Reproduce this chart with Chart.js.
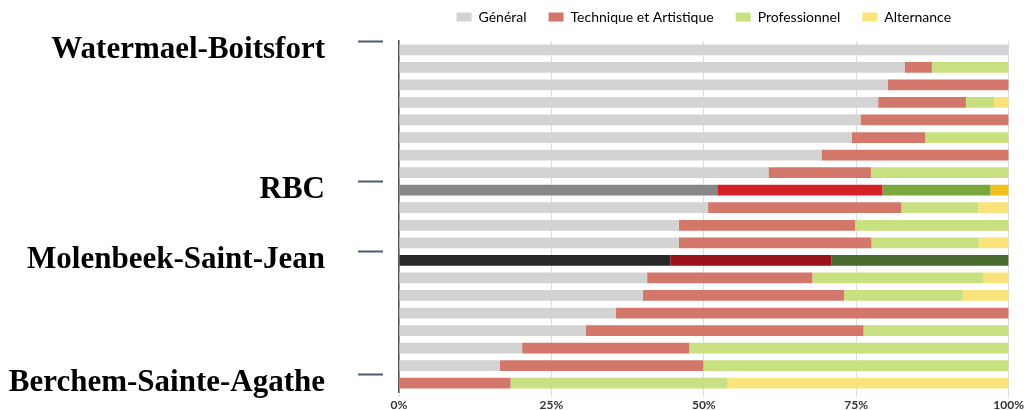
<!DOCTYPE html>
<html>
<head>
<meta charset="utf-8">
<script src="https://cdn.jsdelivr.net/npm/chart.js@4"></script>
<style>
  html, body { margin: 0; padding: 0; background: #fff; }
  #wrap { width: 1026px; height: 410px; }
</style>
</head>
<body>
<div id="wrap"><canvas id="chart" width="1026" height="410"></canvas></div>
<script>
// Communes, top to bottom (only a few are labelled in the original)
const communes = [
  'Watermael-Boitsfort', '', '', '', '', '', '', '',
  'RBC', '', '', '',
  'Molenbeek-Saint-Jean', '', '', '', '', '', '',
  'Berchem-Sainte-Agathe'
];

// Share of pupils per type of education (%)
const general      = [100, 83.0, 80.2, 78.6, 75.7, 74.3, 69.3, 60.6, 52.2, 50.7, 45.9, 45.9, 44.5, 40.7, 40.0, 35.6, 30.6, 20.2, 16.5, 0];
const technique    = [0, 4.4, 19.8, 14.4, 24.3, 12.0, 30.7, 16.8, 27.1, 31.7, 28.9, 31.6, 26.4, 27.1, 33.0, 64.4, 45.6, 27.4, 33.4, 18.3];
const professionel = [0, 12.6, 0, 4.6, 0, 13.7, 0, 22.6, 17.7, 12.6, 25.2, 17.6, 29.1, 28.1, 19.5, 0, 23.8, 52.4, 50.1, 35.6];
const alternance   = [0, 0, 0, 2.4, 0, 0, 0, 0, 3.0, 4.9, 0, 4.9, 0, 4.1, 7.5, 0, 0, 0, 0, 46.1];

const xTicks = [0, 25, 50, 75, 100];

// highlighted rows: RBC (regional average) and Molenbeek
const highlight = {
  8:  ['#878787', '#d42027', '#7ba83d', '#f2c01c'],
  12: ['#282828', '#99111a', '#486c30', '#f2c01c']
};
const baseColors = ['#d3d3d3', '#d3776b', '#c9e080', '#fbe37c'];

function colorsFor(k) {
  return communes.map((_, i) => highlight[i] ? highlight[i][k] : baseColors[k]);
}

const names = ['Général', 'Technique et Artistique', 'Professionnel', 'Alternance'];
const series = [general, technique, professionel, alternance];

// legend sits higher than the layout puts it
const legendNudge = {
  id: 'legendNudge',
  beforeDraw(chart) {
    const lg = chart.legend;
    const h = lg.bottom - lg.top;
    lg.top = -12;
    lg.bottom = lg.top + h;
  }
};

new Chart(document.getElementById('chart'), {
  type: 'bar',
  data: {
    labels: communes,
    datasets: series.map((d, k) => ({
      label: names[k],
      data: d,
      backgroundColor: colorsFor(k),
      borderWidth: 0,
      barPercentage: 0.61,
      categoryPercentage: 1
    }))
  },
  plugins: [legendNudge],
  options: {
    indexAxis: 'y',
    responsive: false,
    animation: false,
    layout: { padding: { top: -5, right: 17, left: 0, bottom: -3 } },
    plugins: {
      tooltip: { enabled: false },
      legend: {
        fullSize: false,
        labels: {
          generateLabels: () => names.map((n, k) => ({
            text: n, fillStyle: baseColors[k], strokeStyle: baseColors[k], lineWidth: 0, datasetIndex: k
          })),
          boxWidth: 15,
          boxHeight: 9,
          padding: 22,
          color: '#555',
          font: { family: 'Lato', size: 14 }
        }
      }
    },
    scales: {
      x: {
        stacked: true,
        min: 0,
        max: 100,
        afterBuildTicks: s => { s.ticks = xTicks.map(v => ({ value: v })); },
        ticks: {
          callback: v => v + '%',
          color: '#333',
          font: { family: 'Lato', size: 12, weight: 'bold', lineHeight: 1 },
          padding: 2
        },
        grid: { color: '#dcdcdc', tickLength: 5, drawTicks: true },
        border: { display: false }
      },
      y: {
        stacked: true,
        afterFit: s => {
          s.width = 399;
          s.paddingTop = 0;
          s.paddingBottom = 0;
        },
        ticks: {
          autoSkip: false,
          color: '#000',
          padding: 33,
          font: { family: 'Liberation Serif', size: 31, weight: 'bold' }
        },
        grid: {
          drawOnChartArea: false,
          tickLength: 41,
          tickWidth: 2,
          tickBorderDash: [25, 100],
          tickColor: c => communes[c.index] ? '#4b5a70' : 'rgba(0,0,0,0)'
        },
        border: { display: true, color: '#555', width: 1.5 }
      }
    }
  }
});
</script>
</body>
</html>
